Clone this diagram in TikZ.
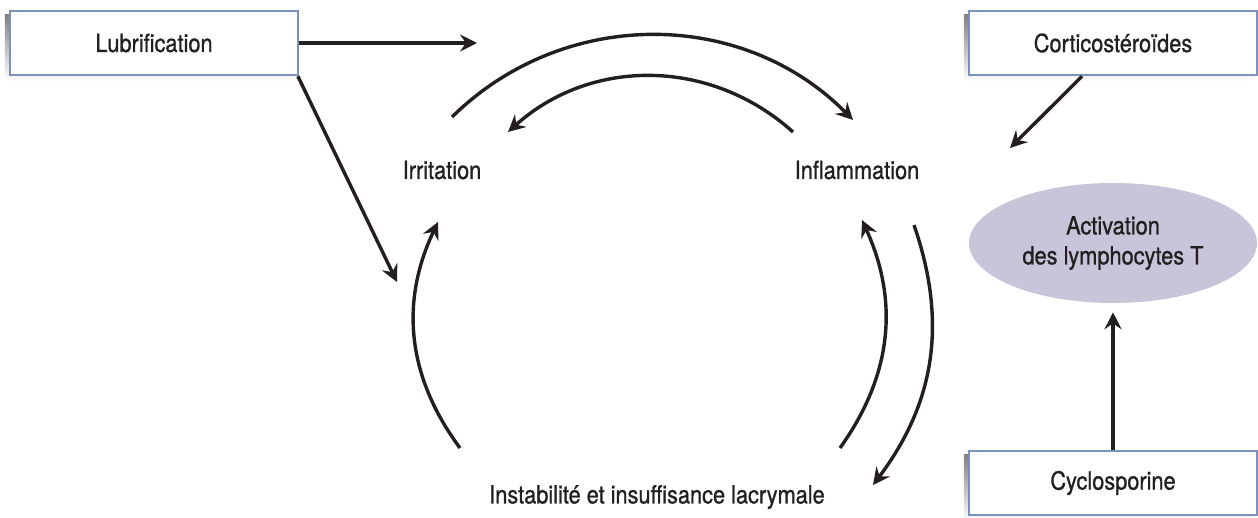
\documentclass[tikz,border=0pt]{standalone}
\usepackage{fontspec}
\setmainfont{TeX Gyre Heros}[FakeStretch=0.87, FakeBold=0.9]
\usepackage{tikz}
\usetikzlibrary{arrows.meta, shapes.geometric, backgrounds}

\definecolor{boxline}{RGB}{125,145,190}
\definecolor{lilac}{RGB}{200,196,217}
\definecolor{ink}{RGB}{35,31,32}
\definecolor{shade}{RGB}{236,236,236}

\begin{document}
\begin{tikzpicture}[x=1pt, y=-1pt, semithick,
    every node/.style={text=ink, font=\fontsize{25}{30}\selectfont},
    drug/.style={rectangle, draw=boxline, line width=2.4pt, fill=white,
        minimum width=288pt, minimum height=64pt},
    cell/.style={ellipse, fill=lilac, minimum width=288pt, minimum height=120pt,
        align=center, inner sep=0pt},
    arr/.style={draw=ink, line width=3.4pt,
        -{Stealth[length=17pt, width=17pt, inset=6pt]}}]

    \useasboundingbox (0,0) rectangle (1258,517);

    % Nodes
    \node[drug] (lub) at (154,43) {Lubrification};
    \node[drug] (cort) at (1113,43) {Corticostéroïdes};
    \node[drug] (cyclo) at (1113,483) {Cyclosporine};
    \node[cell] (act) at (1113,243) {Activation\\des lymphocytes T};
    \node (irr) at (442,170) {Irritation};
    \node (infl) at (857,170) {Inflammation};
    \node (inst) at (657,497) {Instabilité et insuffisance lacrymale};

    % Shadows
    \begin{scope}[on background layer]
        \foreach \b in {lub, cort, cyclo}
            \fill[shade] ([shift={(-4,5)}]\b.north west) rectangle ([shift={(-4,5)}]\b.south east);
    \end{scope}

    % Arc ends
    \coordinate (lubtip) at (477,43);
    \coordinate (lubdiag) at (397,282);
    \coordinate (corttip) at (1010,148);
    \coordinate (ta) at (452,117);
    \coordinate (tb) at (853,120);
    \coordinate (ia) at (793,132);
    \coordinate (ib) at (508,132);
    \coordinate (la) at (460,448);
    \coordinate (lb) at (438,222);
    \coordinate (ra) at (840,448);
    \coordinate (rb) at (862,220);
    \coordinate (oa) at (914,225);
    \coordinate (ob) at (873,485);

    % Edges
    \draw[arr] (lub.east) -- (lubtip);
    \draw[arr] (lub.-13.5) -- (lubdiag);
    \draw[arr] (cort.-133) -- (corttip);
    \draw[arr, shorten >=9pt] (cyclo.north) -- (act.south);
    \draw[arr] (ta) to[bend left=45] (tb);
    \draw[arr] (ia) to[bend right=42] (ib);
    \draw[arr] (la) to[bend left=31] (lb);
    \draw[arr] (ra) to[bend right=30] (rb);
    \draw[arr] (oa) to[bend left=28] (ob);

\end{tikzpicture}
\end{document}
